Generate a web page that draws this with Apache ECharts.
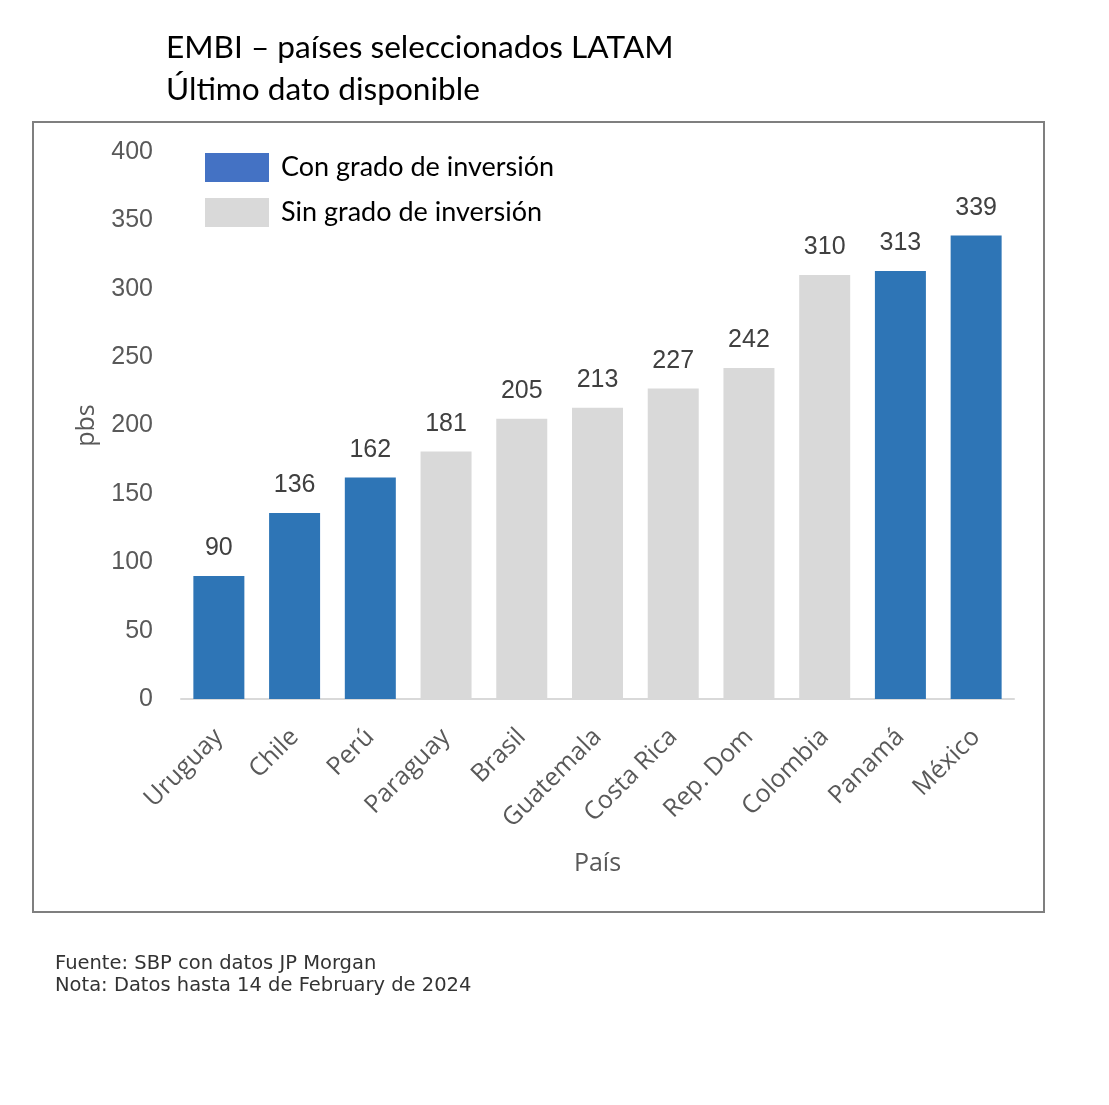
<!DOCTYPE html>
<html><head><meta charset="utf-8">
<script src="https://cdn.jsdelivr.net/npm/echarts@6/dist/echarts.min.js"></script>
<style>html,body{margin:0;padding:0;background:#fff}#c{width:1109px;height:1105px}</style>
</head><body><div id="c"></div>
<script>
const categories = ['Uruguay','Chile','Perú','Paraguay','Brasil','Guatemala','Costa Rica','Rep. Dom','Colombia','Panamá','México'];
const values = [90,136,162,181,205,213,227,242,310,313,339];
const investmentGrade = [true,true,true,false,false,false,false,false,false,true,true];
const yTicks = [0,50,100,150,200,250,300,350,400];
const seriesNames = ['Con grado de inversión','Sin grado de inversión'];

const conData = values.map((v,i)=> investmentGrade[i] ? v : '-');
const sinData = values.map((v,i)=> investmentGrade[i] ? '-' : v);

const chart = echarts.init(document.getElementById('c'));
const labelStyle = {show:true, position:'top', distance:15, color:'#404040', fontSize:25, fontFamily:'Liberation Sans'};
chart.setOption({
  animation:false,
  backgroundColor:'#fff',
  title:[{
    text:'EMBI – países seleccionados LATAM\nÚltimo dato disponible',
    left:161, top:22,
    textStyle:{fontFamily:'Lato', fontSize:31.6, fontWeight:'normal', color:'#000', lineHeight:42}
  },{
    text:'Fuente: SBP con datos JP Morgan\nNota: Datos hasta 14 de February de 2024',
    left:50, top:948,
    textStyle:{fontFamily:'DejaVu Sans', fontSize:19.5, fontWeight:'normal', color:'#333', lineHeight:22}
  }],
  graphic:[{
    type:'rect', shape:{x:33, y:122, width:1011, height:790},
    style:{fill:'none', stroke:'#7f7f7f', lineWidth:2}, silent:true
  }],
  legend:{
    orient:'vertical', left:200, top:148, itemWidth:64, itemHeight:29, itemGap:16,
    icon:'rect',
    textStyle:{fontFamily:'Lato', fontSize:27, color:'#000', padding:[0,0,0,7]},
    data:[{name:seriesNames[0], itemStyle:{color:'#4472C4'}},{name:seriesNames[1], itemStyle:{color:'#D9D9D9'}}]
  },
  grid:{left:181, right:95, top:152, bottom:406},
  xAxis:{
    type:'category', data:categories,
    axisLine:{lineStyle:{color:'#d9d9d9', width:2}},
    axisTick:{show:false},
    axisLabel:{rotate:45, interval:0, margin:34, color:'#595959', fontSize:25, fontFamily:'Open Sans'},
    name:'País', nameLocation:'middle', nameGap:152,
    nameTextStyle:{color:'#595959', fontSize:25, fontFamily:'Open Sans'}
  },
  yAxis:{
    type:'value', min:0, max:400, interval:50,
    axisLine:{show:false}, axisTick:{show:false}, splitLine:{show:false},
    axisLabel:{margin:28, color:'#595959', fontSize:25, fontFamily:'Liberation Sans'},
    name:'pbs', nameLocation:'middle', nameGap:82, nameRotate:90,
    nameTextStyle:{color:'#595959', fontSize:25, fontFamily:'Open Sans'}
  },
  series:[
    {name:seriesNames[0], type:'bar', data:conData, barWidth:51, barGap:'-100%',
     itemStyle:{color:'#2E75B6'}, label:labelStyle},
    {name:seriesNames[1], type:'bar', data:sinData, barWidth:51,
     itemStyle:{color:'#D9D9D9'}, label:labelStyle}
  ]
});
</script></body></html>
